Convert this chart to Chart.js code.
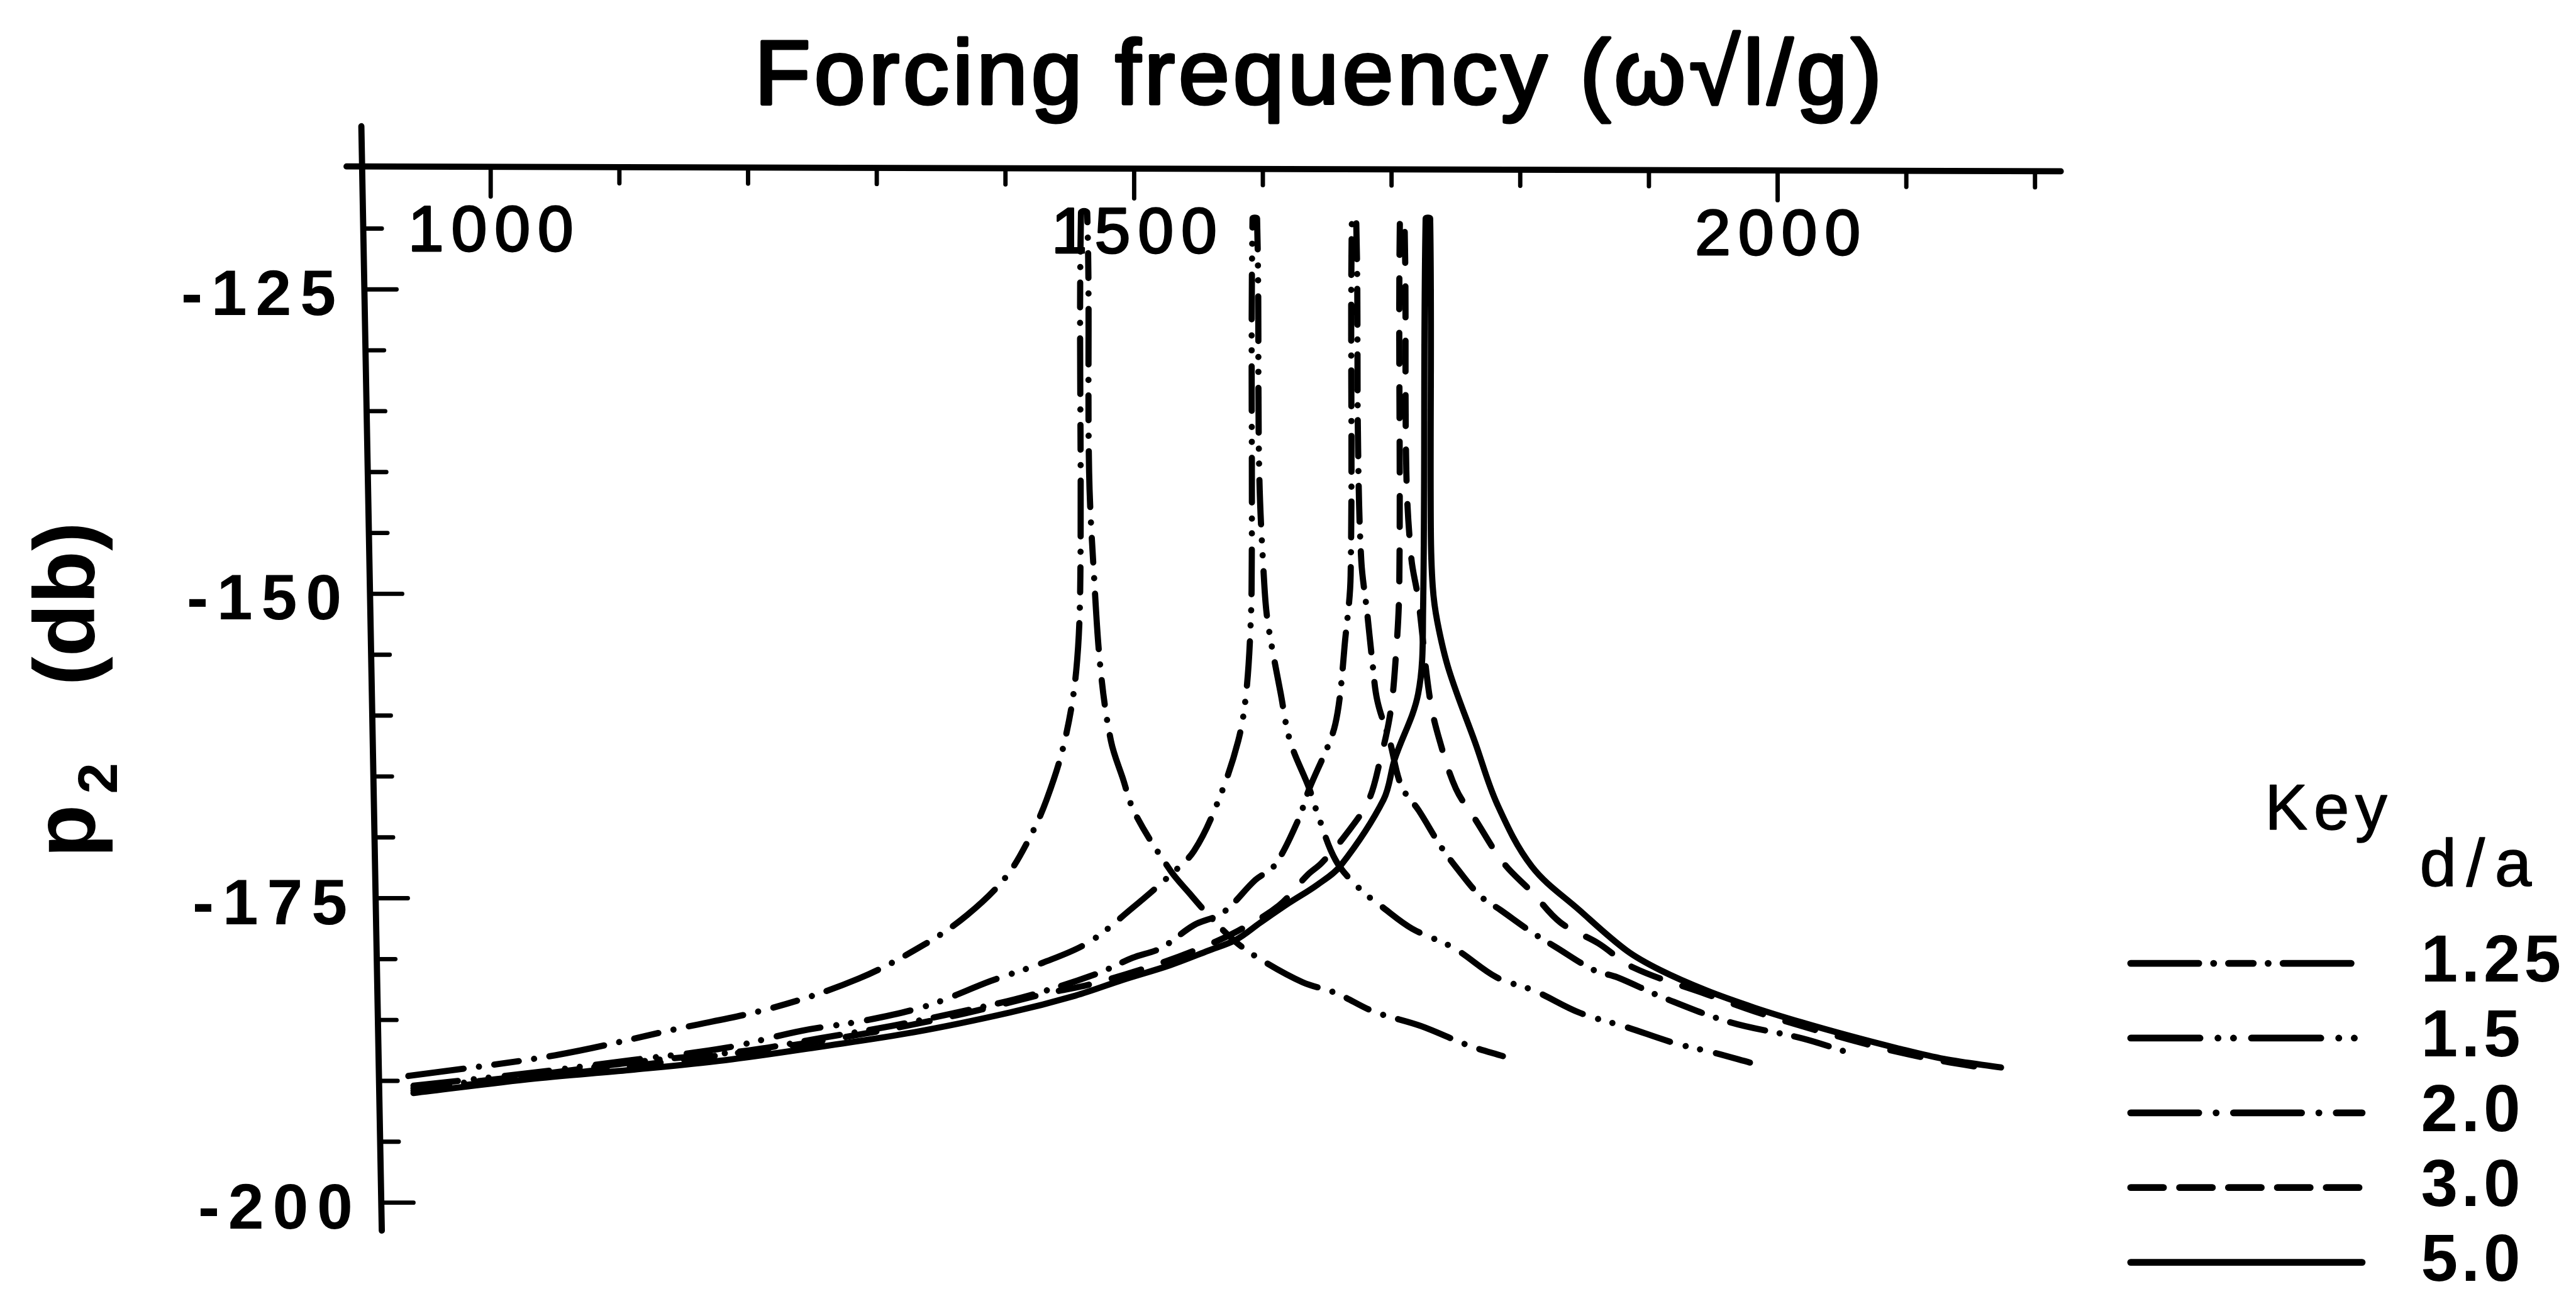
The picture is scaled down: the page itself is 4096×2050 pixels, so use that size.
<!DOCTYPE html>
<html>
<head>
<meta charset="utf-8">
<script src="https://cdn.jsdelivr.net/npm/chart.js@4.4.1/dist/chart.umd.min.js"></script>
<style>
  html, body { margin: 0; padding: 0; background: #fff; }
  #wrap { width: 4096px; height: 2050px; position: relative; }
</style>
</head>
<body>
<div id="wrap"><canvas id="resonance"></canvas></div>
<script>
// p2 level against forcing frequency, one curve per d/a ratio
const ratioLabels = ['1.25', '1.5', '2.0', '3.0', '5.0'];

// [frequency, level in db]
const curve125 = [
  [936, -189.6], [1050, -187.9], [1146, -185.7], [1219, -184.0], [1286, -181.6], [1337, -178.8],
  [1370, -176.4], [1400, -173.3], [1418, -170.2], [1432, -166.9], [1446, -162.1], [1455, -156.3],
  [1458.2, -148.5], [1458.7, -118.7], [1463.5, -118.7], [1465, -140.0], [1468.8, -148.5], [1474, -156.3],
  [1482, -162.1], [1491, -165.1], [1500.5, -168.0], [1528, -172.7], [1543, -174.6], [1558, -176.4],
  [1579, -178.6], [1601, -180.2], [1631, -181.9], [1657, -182.8], [1686, -184.3], [1723, -185.5],
  [1760, -187.1], [1787.5, -188.0]
];
const curve15 = [
  [940, -190.4], [1035, -189.3], [1109, -188.3], [1182, -187.3], [1241, -185.9], [1293, -185.0],
  [1340, -183.8], [1388.5, -181.8], [1429, -180.3], [1465, -178.6], [1498.6, -175.8], [1528, -173.1],
  [1546.6, -171.1], [1565, -167.1], [1580.8, -162.1], [1587, -158.2], [1590.6, -152.3], [1591.4, -147.0],
  [1592, -119.2], [1595.5, -119.2], [1597.2, -140.0], [1601, -149.0], [1603.8, -152.3], [1613.9, -158.2],
  [1621.2, -162.1], [1636.1, -166.0], [1642.3, -168.0], [1656.7, -171.9], [1675, -174.2], [1693.8, -175.8],
  [1716, -177.5], [1748.6, -179.1], [1781.7, -181.5], [1811, -182.6], [1846, -184.4], [1883, -185.6],
  [1920, -186.9], [1951, -187.7], [1978.5, -188.5]
];
const curve20 = [
  [940, -190.6], [1035, -189.5], [1109, -188.5], [1200.5, -187.5], [1256, -186.5], [1311, -185.5],
  [1366, -184.3], [1418, -183.0], [1471, -181.2], [1498.6, -179.9], [1520.7, -179.1], [1546.6, -177.2],
  [1568.8, -176.2], [1594.2, -173.5], [1609.1, -172.3], [1627.4, -168.6], [1636.1, -166.0], [1651, -162.4],
  [1656.3, -160.7], [1660.1, -158.2], [1663.5, -154.3], [1668.2, -148.5], [1669.2, -119.2], [1672.5, -119.2],
  [1674, -138.0], [1676.5, -147.3], [1681, -151.5], [1685, -155.5], [1689, -158.8], [1698.6, -162.1],
  [1707.7, -165.8], [1721.2, -167.8], [1738, -170.7], [1750.5, -172.5], [1768.8, -174.8], [1785.1, -176.0],
  [1809.1, -177.8], [1827.4, -179.0], [1857.2, -180.9], [1875.5, -181.5], [1912, -183.2], [1963.5, -185.2],
  [2018.8, -186.5], [2055.8, -187.7]
];
const curve30 = [
  [940, -190.8], [1051.4, -189.5], [1147.6, -188.3], [1219.7, -187.3], [1291.8, -186.1], [1362.5, -184.6],
  [1432.7, -182.8], [1464.9, -182.1], [1513, -180.6], [1551.4, -179.1], [1580.3, -177.7], [1612.5, -175.6],
  [1634.6, -173.1], [1645.7, -172.1], [1663.6, -169.9], [1682, -167.0], [1691.3, -163.6], [1698.6, -160.1],
  [1702.4, -156.5], [1706, -149.4], [1706.5, -119.2], [1710, -119.2], [1711.5, -140.0], [1715.4, -147.1],
  [1720.7, -150.4], [1729.8, -158.6], [1737.5, -162.1], [1750, -166.0], [1764.9, -168.5], [1787, -172.1],
  [1809.1, -174.5], [1831.3, -177.0], [1860.6, -178.7], [1888, -180.7], [1945.2, -182.9], [1982.2, -184.3],
  [2018.8, -185.5], [2055.8, -186.6], [2092.3, -187.6], [2129.3, -188.4], [2164.4, -189.0]
];
const curve50 = [
  [940, -191.0], [1035.1, -189.8], [1108.7, -189.1], [1182.2, -188.3], [1255.8, -187.2], [1329.3, -186.0],
  [1402.9, -184.4], [1454.3, -183.0], [1491.3, -181.7], [1527.9, -180.5], [1557.7, -179.3], [1579.3, -178.4],
  [1598.1, -177.0], [1620.2, -175.4], [1642.3, -173.9], [1660.6, -172.3], [1693.8, -166.9], [1702.4, -163.6],
  [1720.7, -158.2], [1724.5, -151.4], [1726.5, -119.2], [1730, -119.2], [1730.5, -144.6], [1732, -149.4],
  [1735.6, -152.3], [1744.7, -156.3], [1764.9, -162.2], [1782.2, -167.3], [1809.1, -172.4], [1846.2, -176.0],
  [1882.7, -179.3], [1908.7, -180.9], [1945.2, -182.6], [1982.2, -184.0], [2018.8, -185.2], [2055.8, -186.3],
  [2092.3, -187.3], [2129.3, -188.2], [2173.6, -188.9]
];

const xTickValues = [1000, 1100, 1200, 1300, 1400, 1500, 1600, 1700, 1800, 1900, 2000, 2100, 2200];
const xTickLabels = [1000, 1500, 2000];
const yTickValues = [-120, -125, -130, -135, -140, -145, -150, -155, -160, -165, -170, -175, -180, -185, -190, -195, -200];
const yTickLabels = [-125, -150, -175, -200];

const S = 0.984;
const ink = '#000';
const face = '"Liberation Sans", Arial, Helvetica, sans-serif';

// pen patterns (round caps eat into the gaps, hence the tiny dots)
const penDash = [
  [90, 25, 0.1, 25, 40, 25, 0.1, 25],
  [72, 26, 0.1, 24, 0.1, 26],
  [58, 24, 0.1, 24],
  [50, 38],
  []
].map(p => p.map(v => v * S));

const keyDash = [
  [110, 24, 0.1, 24, 40, 24, 0.1, 24],
  [112, 29, 0.1, 25, 0.1, 29],
  [110, 28, 0.1, 28],
  [53, 26],
  []
].map(p => p.map(v => v * S));

const toPoints = c => c.map(([f, db]) => ({ x: f, y: db }));

// regular face plus a thin outline, closer to the plotter pen than a true bold
function penText(ctx, text, x, y, weight) {
  ctx.fillText(text, x, y);
  ctx.lineWidth = weight;
  ctx.strokeText(text, x, y);
}

const frame = {
  id: 'frame',
  afterDatasetsDraw(chart, args, opts) {
    const { ctx, scales: { x, y } } = chart;
    const px = v => x.getPixelForValue(v);
    const py = v => y.getPixelForValue(v);
    // the top axis sags a touch to the right and the level axis leans, like the plotter sheet
    const topY = f => py(opts.topLeft + (opts.topRight - opts.topLeft) * (f - x.min) / (x.max - x.min));
    const head = opts.spineHead, foot = opts.spineFoot;
    const spineX = db => px(head[0] + (foot[0] - head[0]) * (db - head[1]) / (foot[1] - head[1]));

    ctx.save();
    ctx.strokeStyle = ink;
    ctx.fillStyle = ink;
    ctx.lineCap = 'round';
    ctx.lineJoin = 'round';

    ctx.lineWidth = 10 * S;
    ctx.beginPath();
    ctx.moveTo(px(x.min), topY(x.min));
    ctx.lineTo(px(x.max), topY(x.max));
    ctx.stroke();

    ctx.beginPath();
    ctx.moveTo(spineX(head[1]), py(head[1]));
    ctx.lineTo(spineX(foot[1]), py(foot[1]));
    ctx.stroke();

    ctx.textBaseline = 'middle';

    // frequency ticks hang down from the top axis, labels sit inside the frame
    let gap = 12 * S;
    ctx.font = `${104 * S}px ${face}`;
    ctx.letterSpacing = gap + 'px';
    xTickValues.forEach(v => {
      const major = xTickLabels.includes(v);
      const x0 = px(v), y0 = topY(v);
      ctx.lineWidth = 7 * S;
      ctx.beginPath();
      ctx.moveTo(x0, y0);
      ctx.lineTo(x0, y0 + (major ? 48 : 26) * S);
      ctx.stroke();
      if (major) {
        ctx.textAlign = 'center';
        penText(ctx, String(v), x0 + gap / 2, y0 + 107 * S, 3 * S);
      }
    });

    gap = 14 * S;
    ctx.font = `bold ${104 * S}px ${face}`;
    ctx.letterSpacing = gap + 'px';
    yTickValues.forEach(v => {
      const major = yTickLabels.includes(v);
      const x0 = spineX(v), y0 = py(v);
      ctx.lineWidth = 7 * S;
      ctx.beginPath();
      ctx.moveTo(x0, y0);
      ctx.lineTo(x0 + (major ? 52 : 30) * S, y0);
      ctx.stroke();
      if (major) {
        ctx.textAlign = 'right';
        ctx.fillText(String(v), x0 - 46 * S + gap, y0 + 13 * S);
      }
    });

    // heading over the frequency axis
    ctx.font = `${148 * S}px ${face}`;
    ctx.letterSpacing = (6 * S) + 'px';
    ctx.textAlign = 'center';
    ctx.textBaseline = 'alphabetic';
    penText(ctx, 'Forcing frequency (\u03c9\u221al/g)', 2130 * S + 3 * S, 168 * S, 5 * S);

    // level axis title, read bottom to top
    ctx.translate(152 * S, 1386 * S);
    ctx.rotate(-Math.PI / 2);
    ctx.letterSpacing = '0px';
    ctx.textAlign = 'left';
    ctx.font = `bold ${140 * S}px ${face}`;
    ctx.fillText('p', 0, 0);
    ctx.fillText('(db)', 278 * S, 0);
    ctx.font = `bold ${90 * S}px ${face}`;
    ctx.fillText('2', 103 * S, 37 * S);
    ctx.restore();
  }
};

const key = {
  id: 'key',
  afterDraw(chart) {
    const { ctx } = chart;
    ctx.save();
    ctx.fillStyle = ink;
    ctx.strokeStyle = ink;
    ctx.lineJoin = 'round';
    ctx.textAlign = 'left';
    ctx.textBaseline = 'alphabetic';
    ctx.font = `${103 * S}px ${face}`;
    ctx.letterSpacing = (10 * S) + 'px';
    penText(ctx, 'Key', 3660 * S, 1340 * S, 1.5 * S);
    ctx.font = `${107 * S}px ${face}`;
    ctx.letterSpacing = (16 * S) + 'px';
    penText(ctx, 'd/a', 3910 * S, 1432 * S, 1.5 * S);

    chart.data.datasets.forEach((ds, i) => {
      const yy = (1557 + i * 120.8) * S;
      ctx.lineWidth = 11 * S;
      ctx.lineCap = 'round';
      ctx.setLineDash(keyDash[i]);
      ctx.beginPath();
      ctx.moveTo(3443 * S, yy);
      ctx.lineTo(3817 * S, yy);
      ctx.stroke();
      ctx.setLineDash([]);
      ctx.font = `bold ${107 * S}px ${face}`;
      ctx.letterSpacing = (6 * S) + 'px';
      ctx.textBaseline = 'middle';
      ctx.fillText(ds.label, 3912 * S, yy);
    });
    ctx.restore();
  }
};

const curves = [curve125, curve15, curve20, curve30, curve50];

const data = {
  datasets: curves.map((c, i) => ({
    label: ratioLabels[i],
    data: toPoints(c),
    borderColor: ink,
    borderWidth: 10 * S,
    borderDash: penDash[i],
    borderCapStyle: 'round',
    borderJoinStyle: 'round',
    pointRadius: 0,
    fill: false,
    tension: 0.35
  }))
};

const config = {
  type: 'line',
  data,
  options: {
    responsive: true,
    maintainAspectRatio: false,
    animation: false,
    events: [],
    layout: {
      padding: { left: 560 * S, top: 269 * S, right: 4096 - 3330 * S, bottom: 2050 - 1989 * S }
    },
    scales: {
      x: { type: 'linear', min: 888, max: 2220, display: false },
      y: { type: 'linear', min: -202.3, max: -114.9, display: false }
    },
    plugins: {
      legend: { display: false },
      title: { display: false },
      tooltip: { enabled: false },
      frame: {
        topLeft: -114.9,
        topRight: -115.3,
        spineHead: [899.5, -111.6],
        spineFoot: [915.4, -202.3]
      }
    }
  },
  plugins: [frame, key]
};

const resonanceChart = new Chart(document.getElementById('resonance'), config);
</script>
</body>
</html>
